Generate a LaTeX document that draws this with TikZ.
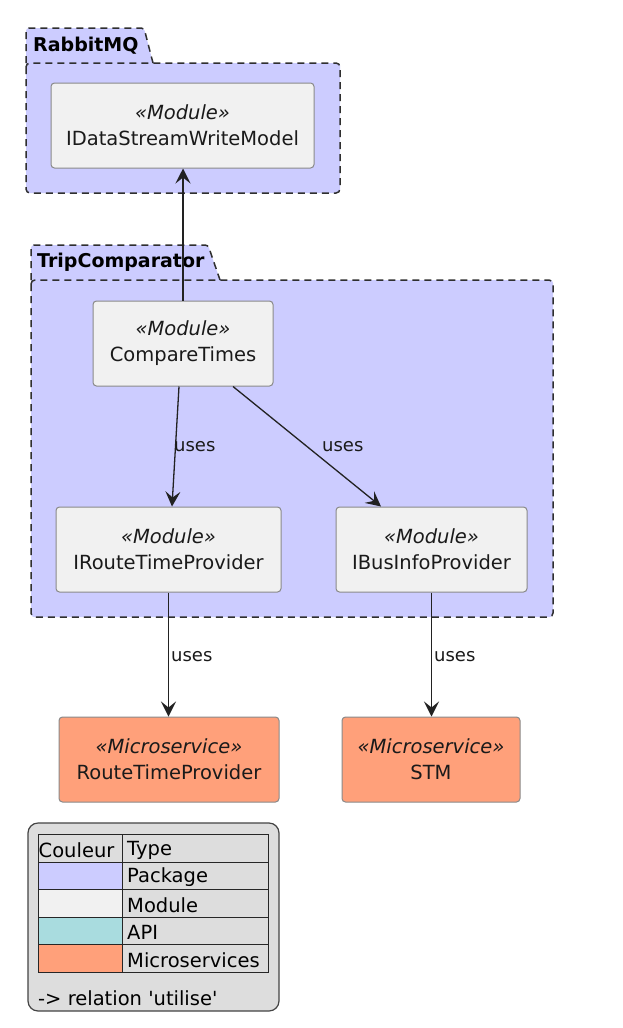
\documentclass[tikz,border=0pt]{standalone}
\usepackage{fontspec}
\setmainfont{DejaVu Sans}
\newfontfamily\plainfont{DejaVu Sans}
\usetikzlibrary{arrows.meta,calc}
\definecolor{pkgfill}{HTML}{CCCCFF}
\definecolor{modfill}{HTML}{F1F1F1}
\definecolor{microfill}{HTML}{FFA07A}
\definecolor{apifill}{HTML}{A9DCDF}
\definecolor{legbg}{HTML}{DDDDDD}
\definecolor{boxline}{HTML}{8A8A8A}
\definecolor{dashc}{HTML}{2F2F2F}
\definecolor{arrowc}{HTML}{222222}
\definecolor{txt}{HTML}{1A1A1A}
\definecolor{legline}{HTML}{444444}
\begin{document}
\begin{tikzpicture}[x=1pt,y=-1pt,
  module/.style={draw=boxline, fill=modfill, rounded corners=3.5pt, line width=1pt,
    align=center, inner sep=0pt, text=txt, font=\fontsize{19.5}{26}\selectfont,
    minimum height=85pt},
  micro/.style={module, fill=microfill},
  pkgline/.style={draw=dashc, line width=1.5pt, dash pattern=on 7pt off 5pt},
  uses/.style={draw=arrowc, line width=1.3pt, -{Stealth[length=15pt,width=15pt,inset=6pt]}},
  lbl/.style={font=\fontsize{18}{20}\selectfont, text=txt, anchor=west, inner sep=0pt},
  pkglbl/.style={font=\bfseries\fontsize{19}{22}\selectfont, text=black, anchor=west, inner sep=0pt},
  legtxt/.style={font=\fontsize{19.5}{22}\selectfont, text=black, anchor=west, inner sep=0pt},
]
\useasboundingbox (0,0) rectangle (622,1028);
\fill[white] (0,0) rectangle (622,1028);

% RabbitMQ package
\fill[pkgfill, rounded corners=3pt] (26,63) -- (26,28) -- (144,28) -- (153,63) -- (340,63) -- (340,193) -- (26,193) -- cycle;
\draw[pkgline, rounded corners=4pt] (26,63) rectangle (340,193);
\draw[pkgline, rounded corners=3pt] (26,63) -- (26,28) -- (144,28) -- (153,63);
\node[pkglbl] (pkgrmq) at (33,46) {RabbitMQ};

% TripComparator package
\fill[pkgfill, rounded corners=3pt] (31,280) -- (31,245) -- (208,245) -- (220,280) -- (553,280) -- (553,617) -- (31,617) -- cycle;
\draw[pkgline, rounded corners=4pt] (31,280) rectangle (553,617);
\draw[pkgline, rounded corners=3pt] (31,280) -- (31,245) -- (208,245) -- (220,280);
\node[pkglbl] (pkgtc) at (37,262) {TripComparator};

% modules
\node[module, minimum width=263pt] (dswm) at (182.5,125.5) {{\itshape «Module»}\\IDataStreamWriteModel};
\node[module, minimum width=180pt] (ct) at (183,343.5) {{\itshape «Module»}\\CompareTimes};
\node[module, minimum width=225pt] (irtp) at (168.5,549.5) {{\itshape «Module»}\\IRouteTimeProvider};
\node[module, minimum width=191pt] (ibip) at (431.5,549.5) {{\itshape «Module»}\\IBusInfoProvider};

% microservices
\node[micro, minimum width=220pt] (rtp) at (169,759.5) {{\itshape «Microservice»}\\RouteTimeProvider};
\node[micro, minimum width=178pt] (stm) at (431,759.5) {{\itshape «Microservice»}\\STM};

% connectors
\draw[uses] (ct.north) -- (ct.north |- dswm.south);
\draw[uses] ($(ct.south)+(-4,0)$) -- ($(irtp.north)+(3.5,0)$);
\draw[uses] ($(ct.south)+(50,0)$) -- ($(ibip.north)+(-50.5,0)$);
\draw[uses] (irtp.south) -- (irtp.south |- rtp.north);
\draw[uses] (ibip.south) -- (ibip.south |- stm.north);

\node[lbl] (u1) at (174,447) {uses};
\node[lbl] (u2) at (322,447) {uses};
\node[lbl] (u3) at (171,657) {uses};
\node[lbl] (u4) at (434,657) {uses};

% legend
\draw[draw=legline, fill=legbg, line width=1.2pt, rounded corners=10pt] (28,823) rectangle (279,1011);
\fill[pkgfill] (38,862) rectangle (122,889);
\fill[modfill] (38,889) rectangle (122,917);
\fill[apifill] (38,917) rectangle (122,944);
\fill[microfill] (38,944) rectangle (122,972);
\draw[draw=black!85, line width=1pt] (38,834) rectangle (268,972)
  (122,834) -- (122,972)
  (38,862) -- (268,862) (38,889) -- (268,889) (38,917) -- (268,917) (38,944) -- (268,944);
\node[legtxt] (lh1) at (38.5,850) {Couleur};
\node[legtxt] (lh2) at (127,850) {Type};
\node[legtxt] (lt1) at (127,877.5) {Package};
\node[legtxt] (lt2) at (127,905) {Module};
\node[legtxt] (lt3) at (127,932.5) {API};
\node[legtxt] (lt4) at (127,960) {Microservices};
\node[legtxt, font=\plainfont\fontsize{19.5}{22}\selectfont] (lnote) at (38,998) {-> relation 'utilise'};
\end{tikzpicture}
\end{document}
